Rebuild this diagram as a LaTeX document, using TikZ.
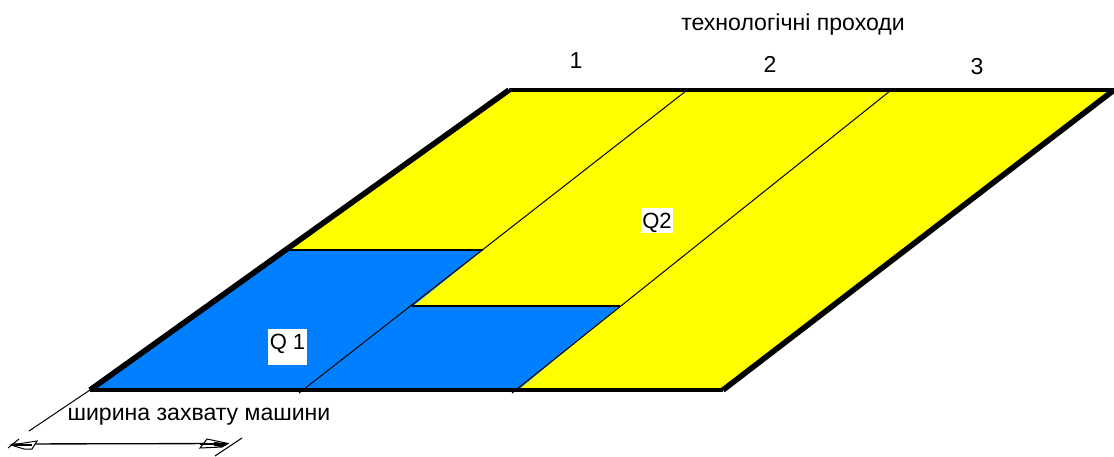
\documentclass[tikz,border=0pt]{standalone}
\usepackage{fontspec}
\setmainfont{Liberation Sans}
\tikzset{
  x=0.75pt,y=-0.75pt,
  thick edge/.style={line width=4.2pt,line cap=butt,line join=miter},
  thin edge/.style={line width=0.75pt},
  band edge/.style={line width=1.2pt},
  lbl/.style={font=\fontsize{17.3}{19}\selectfont,inner sep=0pt,text=black},
  tag/.style={font=\fontsize{16.5}{18}\selectfont,fill=white,inner sep=0pt,text=black},
}
\definecolor{fieldblue}{RGB}{0,128,255}
\definecolor{fieldyellow}{RGB}{255,255,0}
\begin{document}
\begin{tikzpicture}
\useasboundingbox (0,0) rectangle (1114,457);
\coordinate (bl) at (90,390);
\coordinate (tl) at (509,90);
\coordinate (tr) at (1114,90);
\coordinate (br) at (723,390);
\fill[fieldyellow] (bl) -- (tl) -- (tr) -- (br) -- cycle;
\fill[fieldblue] (bl) -- (288,250) -- (483,250) -- (413,306) -- (620,306) -- (518,390) -- cycle;
\draw[thick edge] (br) -- (tr);
\draw[thick edge] (bl) -- (tl);
\draw[line width=3.3pt] (bl) -- (br);
\draw[line width=3.6pt] (tl) -- (tr);
\coordinate (p1b) at (299,393);
\coordinate (p1t) at (686,91);
\coordinate (p2b) at (512,393);
\coordinate (p2t) at (890,91);
\draw[thin edge] (p1b) -- (p1t);
\draw[thin edge] (p2b) -- (p2t);
\coordinate (h1a) at (288,250);
\coordinate (h1b) at (483,250);
\coordinate (h2a) at (412,306);
\coordinate (h2b) at (620,306);
\draw[band edge] (h1a) -- (h1b);
\draw[band edge] (h2a) -- (h2b);
\node[lbl] (title) at (793,25) {технологічні проходи};
\node[lbl] (n1) at (576,61) {1};
\node[lbl] (n2) at (770,64) {2};
\node[lbl] (n3) at (977,67) {3};
\node[tag,minimum width=24pt,text height=14.5pt,text depth=2pt,inner ysep=1.1pt] (q2) at (657,220.5) {Q2};
\node[tag,minimum width=29pt,text height=13.5pt,text depth=9.5pt,inner ysep=2pt] (q1) at (287.5,347) {Q 1};
\node[lbl] (w) at (199,417) {ширина захвату машини};
% dimension
\coordinate (e1) at (29,431);
\coordinate (e2a) at (215,456);
\coordinate (e2b) at (242,438);
\coordinate (t1a) at (8,448);
\coordinate (t1b) at (19,439);
\coordinate (a1) at (12,444);
\coordinate (a2) at (228,443.5);
\draw[thin edge] (bl) -- (e1);
\draw[thin edge] (e2a) -- (e2b);
\draw[thin edge] (t1a) -- (t1b);
\draw[line width=1pt] (a1) -- (a2);
\draw[thin edge,fill=white] (11,445) -- (37,441) -- (32,449) -- (24,449) -- cycle;
\draw[line width=1pt] (11,445) -- (32,445);
\draw[thin edge,fill=white] (228,443.5) -- (207,439) -- (200,448) -- (222,447) -- cycle;
\fill (214,442) -- (228,443.5) -- (222,447) -- (214,446) -- cycle;
\draw[line width=0.8pt] (200,444) -- (214,444);
\end{tikzpicture}
\end{document}
